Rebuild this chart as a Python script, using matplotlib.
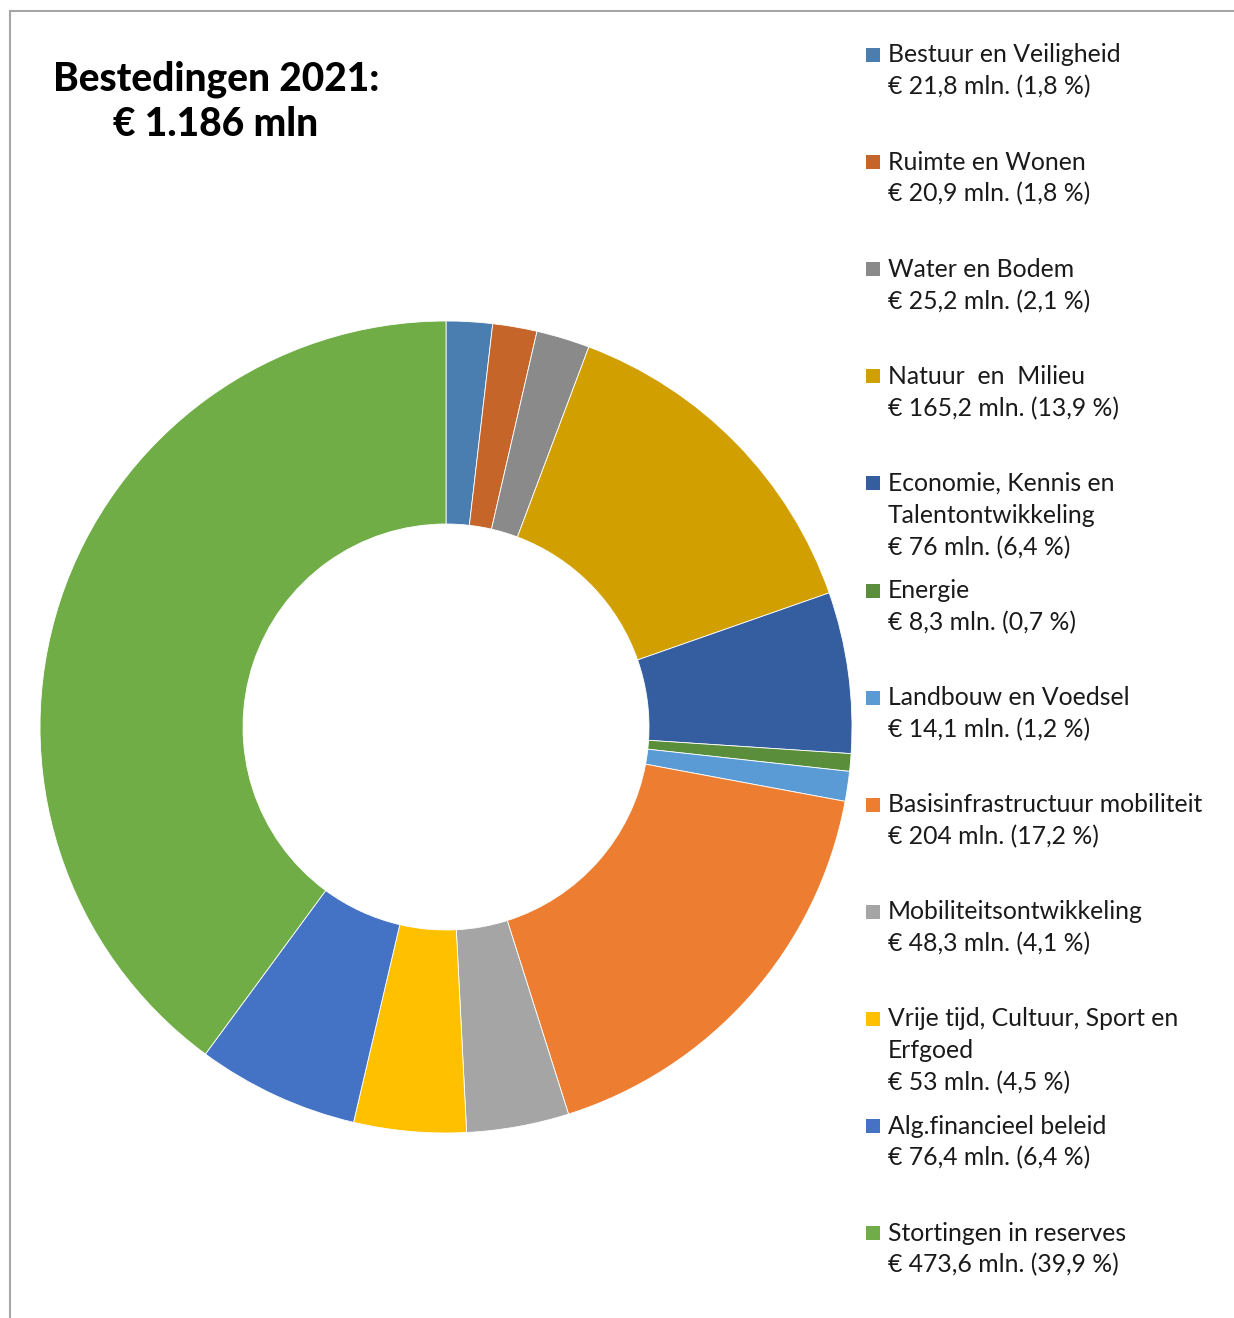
import matplotlib.pyplot as plt
from matplotlib.patches import Rectangle
from matplotlib.lines import Line2D

# data
categories = ['Bestuur en Veiligheid', 'Ruimte en Wonen', 'Water en Bodem',
              'Natuur  en  Milieu', 'Economie, Kennis en\nTalentontwikkeling',
              'Energie', 'Landbouw en Voedsel', 'Basisinfrastructuur mobiliteit',
              'Mobiliteitsontwikkeling', 'Vrije tijd, Cultuur, Sport en\nErfgoed',
              'Alg.financieel beleid', 'Stortingen in reserves']
amounts = [21.8, 20.9, 25.2, 165.2, 76, 8.3, 14.1, 204, 48.3, 53, 76.4, 473.6]
percents = [1.8, 1.8, 2.1, 13.9, 6.4, 0.7, 1.2, 17.2, 4.1, 4.5, 6.4, 39.9]
colors = ['#4A7EB0', '#C5652A', '#8A8A8A', '#D19F00', '#355EA0', '#5A8E3A',
          '#5B9BD5', '#ED7D31', '#A5A5A5', '#FFC000', '#4472C4', '#70AD47']
title_lines = ['Bestedingen 2021:', '€ 1.186 mln']

W, H = 1234, 1318
fig = plt.figure(figsize=(W/100, H/100), dpi=100, facecolor='white')

# frame (top + left)
fig.add_artist(Line2D([10/W, 1], [1-11/H, 1-11/H], color='#A6A6A6', lw=1.5))
fig.add_artist(Line2D([10/W, 10/W], [1-11/H, 0], color='#A6A6A6', lw=1.5))

# donut
cx, cy, r = 446, 727, 406
ax = fig.add_axes([(cx-r)/W, (H-cy-r)/H, 2*r/W, 2*r/H])
ax.pie(amounts, colors=colors, startangle=90, counterclock=False, radius=1,
       wedgeprops=dict(width=0.5, edgecolor='white', linewidth=0.6))
ax.set_xlim(-1, 1)
ax.set_ylim(-1, 1)
ax.set_aspect('equal')
ax.axis('off')

# title
for k, t in enumerate(title_lines):
    fig.text(216/W, 1-(79+46*k)/H, t, ha='center', va='center',
             fontsize=28, fontweight='black', family=['Lato', 'DejaVu Sans'], color='black')

# legend, drawn by hand
def fmt(v):
    return ('%g' % v).replace('.', ',')

for i, (name, a, p, c) in enumerate(zip(categories, amounts, percents, colors)):
    y0 = 55 + i*107.1
    fig.add_artist(Rectangle((866/W, 1-(y0+7)/H), 14/W, 14/H, facecolor=c,
                             edgecolor='none', transform=fig.transFigure))
    lines = name.split('\n') + ['€ %s mln. (%s %%)' % (fmt(a), fmt(p))]
    for k, ln in enumerate(lines):
        fig.text(888/W, 1-(y0+32*k)/H, ln, ha='left', va='center', fontsize=17.8,
                 family=['Lato', 'DejaVu Sans'], color='#1A1A1A')

plt.savefig('out.png', dpi=100, facecolor='white')
